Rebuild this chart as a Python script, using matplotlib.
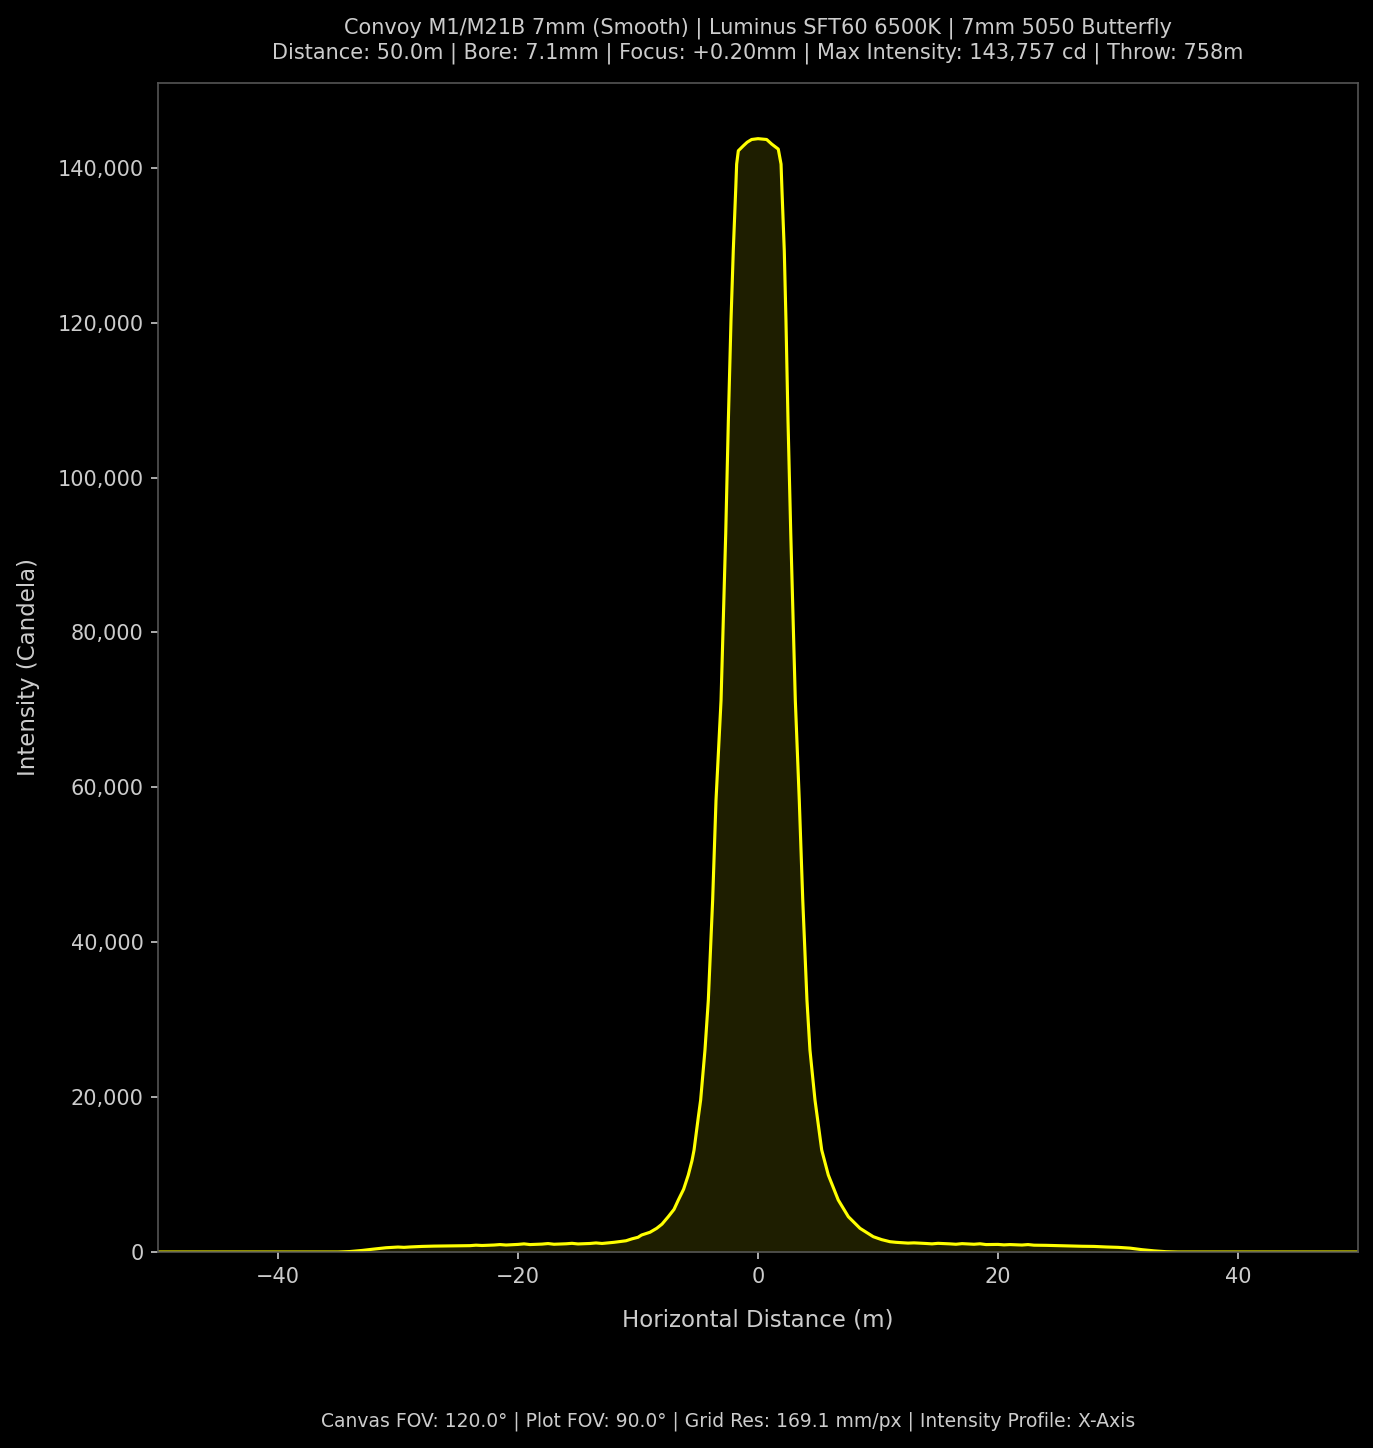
import matplotlib
matplotlib.use("Agg")
import matplotlib.pyplot as plt
from matplotlib.ticker import FuncFormatter, MultipleLocator

# ---- data ----
left_tail_x = [-50, -35, -34, -33, -32, -31, -30,
               -29.5, -29, -28, -27, -26, -25, -24,
               -23.5, -23, -22, -21.5, -21, -20, -19.5,
               -19, -18, -17.5, -17, -16, -15.5, -15,
               -14, -13.5, -13, -12, -11.5, -11]
left_tail_y = [0, 0, 60, 200, 380, 550, 640,
               600, 650, 720, 760, 780, 800, 820,
               880, 840, 900, 960, 900, 980, 1050,
               960, 1020, 1090, 1000, 1060, 1120, 1040,
               1100, 1170, 1100, 1250, 1350, 1450]

core_x = [-10.5, -10, -9.7, -9, -8.44, -8, -7.48,
          -7, -6.64, -6.2, -5.81, -5.5, -5.33, -4.97,
          -4.78, -4.42, -4.14, -3.78, -3.5, -3.08, -2.69,
          -2.47, -2.25, -2.06, -1.85, -1.78, -1.64, -1.22,
          -0.9, -0.53, 0.0, 0.72, 1.14, 1.69, 1.92,
          2.0, 2.19, 2.33, 2.5, 2.73, 3.11, 3.44,
          3.73, 4.08, 4.33, 4.75, 5.31, 5.86, 6.69,
          7.53, 8.5, 9.61, 10.3]
core_y = [1700, 1900, 2194, 2550, 3058, 3600, 4555,
          5500, 6710, 8100, 9935, 11800, 13161, 17458,
          19613, 26064, 32516, 45420, 58320, 71225, 92770,
          107400, 120300, 129300, 137500, 140470, 142194, 142840,
          143300, 143650, 143757, 143650, 143060, 142410, 140470,
          137000, 129300, 120300, 107400, 92770, 71225, 58320,
          45420, 32516, 26064, 19613, 13161, 9935, 6710,
          4555, 3058, 1974, 1600]

right_tail_x = [11.0, 11.5, 12, 12.5, 13, 14, 14.5,
                15, 16, 16.5, 17, 18, 18.5, 19,
                20, 20.5, 21, 22, 22.5, 23, 24,
                25, 26, 27, 28, 29, 30, 31,
                32, 33, 34, 35, 50]
right_tail_y = [1329, 1250, 1200, 1150, 1180, 1100, 1050,
                1120, 1050, 1000, 1080, 1000, 1060, 960,
                980, 920, 960, 900, 960, 880, 860,
                820, 780, 740, 720, 650, 600, 500,
                300, 150, 40, 0, 0]

title_lines = ["Convoy M1/M21B 7mm (Smooth) | Luminus SFT60 6500K | 7mm 5050 Butterfly",
               "Distance: 50.0m | Bore: 7.1mm | Focus: +0.20mm | Max Intensity: 143,757 cd | Throw: 758m"]
footer = "Canvas FOV: 120.0° | Plot FOV: 90.0° | Grid Res: 169.1 mm/px | Intensity Profile: X-Axis"
x_label = "Horizontal Distance (m)"
y_label = "Intensity (Candela)"
x_limits = [-50, 50]
max_intensity = 143757

x_m = left_tail_x + core_x + right_tail_x
intensity = left_tail_y + core_y + right_tail_y

# ---- style ----
txt = "#cccccc"
fig = plt.figure(figsize=(1373 / 150, 1448 / 150), dpi=150, facecolor="black")
ax = fig.add_axes([158 / 1373, 1 - 1252 / 1448, 1200 / 1373, (1252 - 83) / 1448])
ax.set_facecolor("black")

ax.fill_between(x_m, intensity, color="#ffff00", alpha=0.12, linewidth=0)
ax.plot(x_m, intensity, color="#ffff00", linewidth=1.5)

ax.set_xlim(*x_limits)
ax.set_ylim(0, max_intensity * 1.05)
ax.xaxis.set_major_locator(MultipleLocator(20))
ax.yaxis.set_major_locator(MultipleLocator(20000))
ax.yaxis.set_major_formatter(FuncFormatter(lambda v, p: f"{int(v):,}"))

for s in ax.spines.values():
    s.set_color("#555555")
ax.tick_params(colors=txt, labelsize=10)

ax.set_xlabel(x_label, color=txt, fontsize=11, labelpad=10.5)
ax.set_ylabel(y_label, color=txt, fontsize=11, labelpad=8.5)
ax.set_title("\n".join(title_lines), color=txt, fontsize=10, pad=12)
fig.text(728 / 1373, 1 - 1421 / 1448, footer, color=txt, fontsize=9, ha="center", va="center")

fig.savefig("out.png", dpi=150, facecolor="black")
